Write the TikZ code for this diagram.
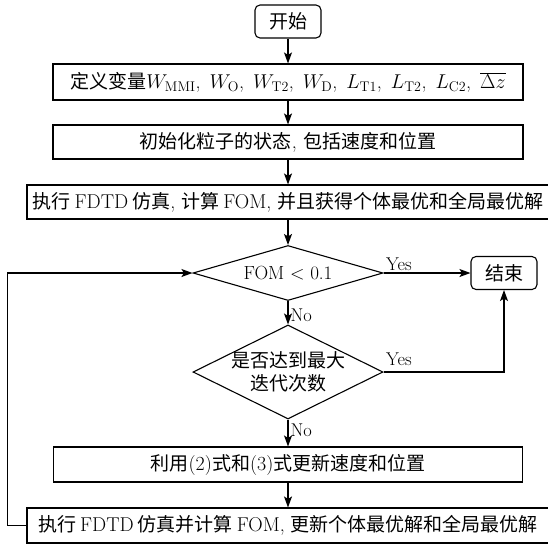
\documentclass[tikz,border=0pt]{standalone}
\usepackage{fix-cm}
\usepackage{fontspec}
\newfontfamily\cjk{Noto Sans CJK SC}[Scale=0.95]
\usetikzlibrary{shapes.geometric,arrows.meta}
% glue between Chinese and Latin runs, and between listed variables
\newcommand{\cjkglue}{\hspace{4pt}}
\newcommand{\varsep}{,\hspace{9pt}}
\begin{document}
\begin{tikzpicture}[x=1pt,y=-1pt,
  font=\fontsize{20}{24}\selectfont,
  every node/.style={inner sep=0pt},
  line width=1.1pt,
  proc/.style={draw,rectangle,minimum height=35pt,align=center},
  term/.style={draw,rectangle,rounded corners=5pt,minimum width=66pt,minimum height=33pt},
  decide/.style={draw,diamond,align=center,minimum width=190pt},
  flow/.style={-{Stealth[length=11pt,width=8pt,inset=2.5pt]}},
  lbl/.style={anchor=base west,font=\fontsize{18.5}{22}\selectfont}
]
\useasboundingbox (0,0) rectangle (548,544);

% process chain
\node[term] (start) at (288,21.5) {\cjk 开始};
\node[proc,minimum width=470pt,minimum height=36pt] (vars) at (288,82)
  {{\cjk 定义变量}$W_{\mathrm{MMI}}$\varsep$W_{\mathrm{O}}$\varsep$W_{\mathrm{T2}}$\varsep$W_{\mathrm{D}}$\varsep$L_{\mathrm{T1}}$\varsep$L_{\mathrm{T2}}$\varsep$L_{\mathrm{C2}}$\varsep$\overline{\Delta z}$};
\node[proc,minimum width=470pt,minimum height=34pt] (init) at (288,142)
  {{\cjk 初始化粒子的状态}, {\cjk 包括速度和位置}};
\node[proc,minimum width=522pt,minimum height=34pt] (sim) at (288,202)
  {{\cjk 执行}\cjkglue FDTD\cjkglue{\cjk 仿真}, {\cjk 计算}\cjkglue FOM, {\cjk 并且获得个体最优和全局最优解}};
\node[decide,aspect=3.5,minimum height=55pt,font=\fontsize{19}{23}\selectfont] (d1) at (288,273) {FOM $<$ 0.1};
\node[term] (stop) at (504,273) {\cjk 结束};
\node[decide,aspect=2,inner ysep=-4pt,minimum height=94pt,font={\fontsize{20}{23}\selectfont\cjk}] (d2) at (288,372)
  {是否达到最大\\迭代次数};
\node[proc,minimum width=469pt,minimum height=35pt] (upd) at (288,464.5)
  {{\cjk 利用}(2){\cjk 式和}(3){\cjk 式更新速度和位置}};
\node[proc,minimum width=522pt,minimum height=35pt] (upd2) at (288,525.5)
  {{\cjk 执行}\cjkglue FDTD\cjkglue{\cjk 仿真并计算}\cjkglue FOM, {\cjk 更新个体最优解和全局最优解}};

% connectors
\draw[flow] (start) -- (vars);
\draw[flow] (vars) -- (init);
\draw[flow] (init) -- (sim);
\draw[flow] (sim) -- (d1);
\draw[flow] (d1.east) -- (stop.west);
\draw[flow] (d1.south) -- (d2.north);
\draw[flow] (d2.east) -| (stop.south);
\draw[flow] (d2.south) -- (upd.north);
\draw[flow] (upd) -- (upd2);
\draw[flow] (upd2.west) -- ++(-19,0) |- (d1.west);

% branch labels
\path (d1.east) ++(2,-3) node[lbl] {Yes};
\path (d2.east) ++(2,-7) node[lbl] {Yes};
\path (d1.south) ++(2,20) node[lbl] {No};
\path (d2.south) ++(2,17) node[lbl] {No};
\end{tikzpicture}
\end{document}
